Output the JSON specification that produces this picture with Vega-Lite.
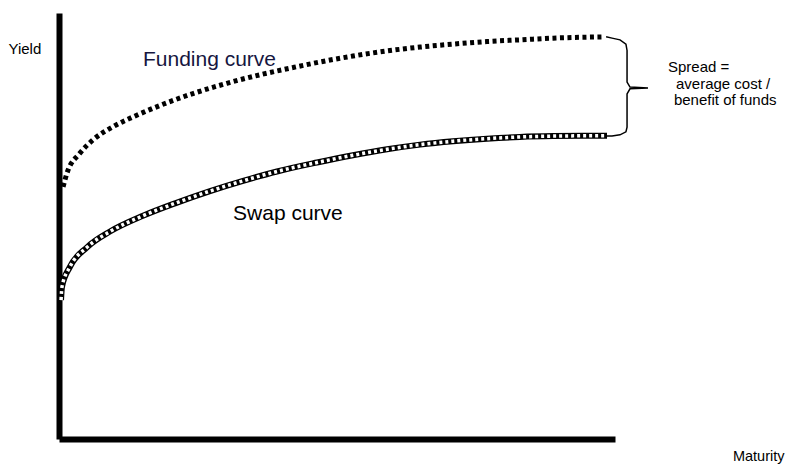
{
  "$schema": "https://vega.github.io/schema/vega-lite/v6.json",
  "width": 556,
  "height": 426,
  "autosize": "none",
  "padding": {"left": 59, "top": 13, "right": 171, "bottom": 32},
  "background": "white",
  "config": {"view": {"stroke": null}, "font": "Liberation Sans"},
  "encoding": {
    "x": {"field": "maturity", "type": "quantitative", "scale": {"domain": [0, 30], "nice": false, "zero": false},
      "axis": {"title": "Maturity", "grid": false, "ticks": false, "labels": false, "domainColor": "black", "domainWidth": 6,
        "titleFont": "Liberation Sans", "titleFontSize": 14.5, "titleFontWeight": "normal", "titleColor": "black",
        "titleX": 725, "titleY": 17, "titleAlign": "right", "titleBaseline": "middle"}},
    "y": {"field": "yield", "type": "quantitative", "scale": {"domain": [0, 10], "nice": false, "zero": false},
      "axis": {"title": "Yield", "grid": false, "ticks": false, "labels": false, "domainColor": "black", "domainWidth": 6,
        "titleFont": "Liberation Sans", "titleFontSize": 15, "titleFontWeight": "normal", "titleColor": "black",
        "titleAngle": 0, "titleX": -51, "titleY": 35, "titleAlign": "left", "titleBaseline": "middle"}}
  },
  "layer": [
    {
      "data": {"values": [
        {"maturity": 0.22, "yield": 5.92}, {"maturity": 0.43, "yield": 6.24}, {"maturity": 1.13, "yield": 6.71},
        {"maturity": 1.83, "yield": 7.02}, {"maturity": 2.91, "yield": 7.33}, {"maturity": 3.99, "yield": 7.56},
        {"maturity": 5.45, "yield": 7.83}, {"maturity": 7.23, "yield": 8.11}, {"maturity": 9.06, "yield": 8.35},
        {"maturity": 10.85, "yield": 8.55}, {"maturity": 12.63, "yield": 8.72}, {"maturity": 14.08, "yield": 8.85},
        {"maturity": 15.86, "yield": 8.99}, {"maturity": 17.70, "yield": 9.11}, {"maturity": 19.48, "yield": 9.20},
        {"maturity": 21.26, "yield": 9.27}, {"maturity": 23.09, "yield": 9.33}, {"maturity": 24.87, "yield": 9.37},
        {"maturity": 26.66, "yield": 9.41}, {"maturity": 29.35, "yield": 9.44}
      ]},
      "mark": {"type": "line", "color": "black", "strokeWidth": 5, "strokeDash": [4, 3.5], "interpolate": "monotone"}
    },
    {
      "data": {"name": "swap", "values": [
        {"maturity": 0.11, "yield": 3.26}, {"maturity": 0.16, "yield": 3.57}, {"maturity": 0.59, "yield": 4.04},
        {"maturity": 1.51, "yield": 4.50}, {"maturity": 2.75, "yield": 4.87}, {"maturity": 4.53, "yield": 5.24},
        {"maturity": 6.37, "yield": 5.55}, {"maturity": 8.15, "yield": 5.82}, {"maturity": 9.93, "yield": 6.06},
        {"maturity": 11.76, "yield": 6.28}, {"maturity": 13.92, "yield": 6.49}, {"maturity": 15.86, "yield": 6.66},
        {"maturity": 17.70, "yield": 6.80}, {"maturity": 19.48, "yield": 6.91}, {"maturity": 21.26, "yield": 6.99},
        {"maturity": 23.09, "yield": 7.05}, {"maturity": 24.87, "yield": 7.09}, {"maturity": 26.66, "yield": 7.11},
        {"maturity": 29.57, "yield": 7.12}
      ]},
      "mark": {"type": "line", "color": "black", "strokeWidth": 6, "interpolate": "monotone"}
    },
    {
      "data": {"name": "swap"},
      "mark": {"type": "line", "color": "white", "strokeWidth": 3.5, "strokeDash": [3, 3], "interpolate": "monotone"}
    },
    {
      "data": {"values": [
        {"order": 1, "maturity": 29.52, "yield": 9.44}, {"order": 2, "maturity": 29.84, "yield": 9.41},
        {"order": 3, "maturity": 30.27, "yield": 9.37}, {"order": 4, "maturity": 30.59, "yield": 9.27},
        {"order": 5, "maturity": 30.65, "yield": 9.12}, {"order": 6, "maturity": 30.65, "yield": 8.38},
        {"order": 7, "maturity": 30.81, "yield": 8.26}, {"order": 8, "maturity": 31.78, "yield": 8.24},
        {"order": 9, "maturity": 30.81, "yield": 8.22}, {"order": 10, "maturity": 30.65, "yield": 8.10},
        {"order": 11, "maturity": 30.65, "yield": 7.32}, {"order": 12, "maturity": 30.59, "yield": 7.21},
        {"order": 13, "maturity": 30.27, "yield": 7.14}, {"order": 14, "maturity": 29.84, "yield": 7.11},
        {"order": 15, "maturity": 29.52, "yield": 7.11}
      ]},
      "mark": {"type": "line", "color": "black", "strokeWidth": 1.5},
      "encoding": {"order": {"field": "order", "type": "quantitative"}}
    },
    {
      "data": {"values": [
        {"label": "Funding curve", "maturity": 4.53, "yield": 8.90, "size": 21, "color": "navy"},
        {"label": "Swap curve", "maturity": 9.39, "yield": 5.28, "size": 21, "color": "black"},
        {"label": "Spread =", "maturity": 32.86, "yield": 8.73, "size": 15, "color": "black"},
        {"label": "average cost /", "maturity": 33.29, "yield": 8.33, "size": 15, "color": "black"},
        {"label": "benefit of funds", "maturity": 33.18, "yield": 7.96, "size": 15, "color": "black"}
      ]},
      "mark": {"type": "text", "align": "left", "baseline": "middle", "font": "Liberation Sans"},
      "encoding": {
        "text": {"field": "label"},
        "size": {"field": "size", "type": "quantitative", "scale": null, "legend": null},
        "color": {"field": "color", "type": "nominal", "scale": {"domain": ["navy", "black"], "range": ["#16163f", "#000000"]}, "legend": null}
      }
    }
  ]
}
